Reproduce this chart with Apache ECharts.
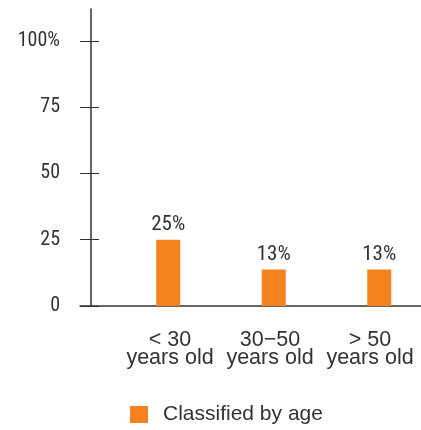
<!DOCTYPE html>
<html>
<head>
<meta charset="utf-8">
<script src="https://cdn.jsdelivr.net/npm/echarts@6/dist/echarts.min.js"></script>
<style>
html,body{margin:0;padding:0;background:#fff;}
#chart{width:421px;height:430px;}
</style>
</head>
<body>
<div id="chart"></div>
<script>
const categories = ['< 30\nyears old', '30\u221250\nyears old', '> 50\nyears old'];
const values = [25, 13.8, 13.8];
const valueLabels = ['25%', '13%', '13%'];
const yTicks = [0, 25, 50, 75, 100];
const seriesName = 'Classified by age';

const narrow = '"Roboto Condensed", "DejaVu Sans Condensed", sans-serif';
const sans = '"Liberation Sans", Arial, sans-serif';
const ink = '#333333';
const orange = '#F5821F';

const gridBase = {top: 9, bottom: 124, outerBoundsMode: 'none', containLabel: false};

const chart = echarts.init(document.getElementById('chart'), null, {renderer: 'canvas'});
chart.setOption({
  animation: false,
  backgroundColor: '#ffffff',
  legend: {
    data: [seriesName],
    left: 125,
    top: 399,
    icon: 'rect',
    itemWidth: 18,
    itemHeight: 17,
    textStyle: {fontFamily: sans, fontSize: 21, color: ink, padding: [0, 0, 0, 10]}
  },
  grid: [
    Object.assign({left: 80, right: 0}, gridBase),
    Object.assign({left: 115.5, width: 316.5}, gridBase),
    Object.assign({left: 120, width: 300}, gridBase)
  ],
  xAxis: [
    {
      gridIndex: 0, type: 'value', min: 0, max: 1,
      axisLine: {show: true, lineStyle: {color: ink, width: 1.5}},
      axisTick: {show: false}, axisLabel: {show: false}, splitLine: {show: false}
    },
    {
      gridIndex: 1, type: 'category', data: categories,
      axisLine: {show: false}, axisTick: {show: false}, axisLabel: {show: false}
    },
    {
      gridIndex: 2, type: 'category', data: categories,
      axisLine: {show: false}, axisTick: {show: false},
      axisLabel: {fontFamily: sans, fontSize: 21.5, lineHeight: 18, color: ink, margin: 25, interval: 0}
    }
  ],
  yAxis: [
    {gridIndex: 0, type: 'value', min: 0, max: 112, show: false},
    {
      gridIndex: 1, type: 'value', min: 0, max: 112, position: 'left', offset: 24.5,
      axisLine: {show: true, lineStyle: {color: ink, width: 1.5}},
      axisTick: {show: true, inside: false, length: 11, customValues: yTicks, lineStyle: {color: ink, width: 1}},
      axisLabel: {
        customValues: yTicks, margin: 31, fontFamily: narrow, fontSize: 20, color: ink,
        formatter: v => (v === 100 ? v + '%' : String(v))
      },
      splitLine: {show: false}
    },
    {
      gridIndex: 1, type: 'value', min: 0, max: 112, position: 'left', offset: 24.5,
      axisLine: {show: false},
      axisTick: {show: true, inside: true, length: 8, customValues: yTicks, lineStyle: {color: ink, width: 1}},
      axisLabel: {show: false},
      splitLine: {show: false}
    },
    {gridIndex: 2, type: 'value', min: 0, max: 112, show: false}
  ],
  series: [{
    name: seriesName,
    type: 'bar',
    xAxisIndex: 1,
    yAxisIndex: 1,
    data: values,
    barWidth: 24,
    itemStyle: {color: orange},
    label: {
      show: true, position: 'top', distance: 4,
      fontFamily: narrow, fontSize: 21, color: ink,
      formatter: p => valueLabels[p.dataIndex]
    }
  }]
});
</script>
</body>
</html>
